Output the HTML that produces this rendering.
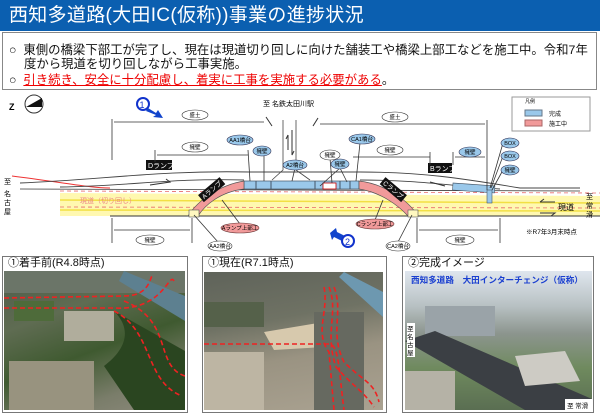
<!DOCTYPE html>
<html><head><meta charset="utf-8">
<style>
*{margin:0;padding:0;box-sizing:border-box}
body{width:600px;height:414px;overflow:hidden;background:#fff;font-family:"Liberation Sans","Noto Sans CJK JP",sans-serif;position:relative}
.hdr{position:absolute;left:0;top:0;width:600px;height:31px;background:#0b5fb0;color:#fff;font-size:19px;line-height:31px;padding-left:9px;letter-spacing:0.3px}
.box{position:absolute;left:2px;top:32px;width:595px;height:58px;border:1px solid #888;font-size:12.4px;line-height:14px;color:#111}
.l{position:absolute;left:6px;white-space:nowrap}
.red{color:#e00;text-decoration:underline}
.panel{position:absolute;border:1.5px solid #777;background:#fff}
.pt{position:absolute;left:5px;top:0px;font-size:11px;line-height:13px;white-space:nowrap;color:#111}
.ph{position:absolute;overflow:hidden}
</style></head><body>
<div class="hdr">西知多道路(大田IC(仮称))事業の進捗状況</div>
<div class="box">
<div class="l" style="top:10px">○&nbsp;&nbsp;東側の橋梁下部工が完了し、現在は現道切り回しに向けた舗装工や橋梁上部工などを施工中。令和7年</div>
<div class="l" style="top:24px;left:21px">度から現道を切り回しながら工事実施。</div>
<div class="l" style="top:40px">○&nbsp;&nbsp;<span class="red">引き続き、安全に十分配慮し、着実に工事を実施する必要がある</span>。</div>
</div>

<svg style="position:absolute;left:0;top:92px" width="600" height="163" viewBox="0 92 600 163" font-family="Liberation Sans, Noto Sans CJK JP, sans-serif">
<circle cx="34" cy="104" r="9" fill="#fff" stroke="#333"/>
<polygon points="26,107 42,98 42,107" fill="#111"/>
<text x="9" y="110" font-size="9" font-weight="bold">Z</text>
<circle cx="143" cy="104" r="6" fill="#fff" stroke="#1133cc" stroke-width="2"/>
<text x="139.5" y="108" font-size="9" fill="#1133cc">1</text>
<polygon points="148,108 156,113 158,110 163,118 153,117 156,115 146,111" fill="#1144cc"/>
<text x="263" y="106" font-size="7">至 名鉄太田川駅</text>
<rect x="512" y="97" width="78" height="34" fill="#fff" stroke="#999"/>
<text x="525" y="103" font-size="5">凡例</text>
<rect x="525" y="110" width="17" height="6" fill="#9ac8ea" stroke="#678"/>
<text x="549" y="116" font-size="6">完成</text>
<rect x="525" y="120" width="17" height="6" fill="#f19a9a" stroke="#a66"/>
<text x="549" y="126" font-size="6">施工中</text>
<path d="M60,193 L600,196 L600,216 L60,216 Z" fill="#fff8b0"/>
<line x1="60" y1="200" x2="600" y2="203" stroke="#f2e044" stroke-width="1.5"/>
<line x1="60" y1="210" x2="600" y2="211" stroke="#f2e044" stroke-width="1.5"/>
<line x1="60" y1="191" x2="600" y2="193" stroke="#e86a6a" stroke-dasharray="4,3" stroke-width="0.8"/>
<line x1="60" y1="207" x2="600" y2="208" stroke="#e86a6a" stroke-dasharray="4,3" stroke-width="0.8"/>
<line x1="110" y1="216" x2="600" y2="216" stroke="#333"/>
<line x1="20" y1="189" x2="580" y2="191" stroke="#333" stroke-width="0.8"/>
<text x="80" y="203" font-size="7" fill="#e88">現道（切り回し）</text>
<path d="M12,176 C60,182 90,188 110,188" stroke="#e33" fill="none"/>
<path d="M20,183 C100,180 160,170 250,172 L360,172 C420,172 460,178 520,188 L580,188" stroke="#444" fill="none" stroke-width="0.9"/>
<path d="M60,187 C130,186 170,178 244,180" stroke="#444" fill="none" stroke-width="0.9"/>
<path d="M360,180 C420,180 450,186 500,189" stroke="#444" fill="none" stroke-width="0.9"/>
<path d="M150,185 L170,182 L166,179" stroke="#333" fill="none"/>
<path d="M430,182 L445,186" stroke="#333" fill="none"/>
<path d="M283,120 L283,170 L272,180 M296,120 L296,170 L310,180" stroke="#444" fill="none" stroke-width="0.8"/>
<path d="M288,135 L288,150 M288,135 L286,139 M292,130 L292,155 L294,151" stroke="#333" fill="none"/>
<line x1="266" y1="117" x2="272" y2="126" stroke="#333"/>
<line x1="318" y1="118" x2="313" y2="126" stroke="#333"/>
<rect x="244" y="181" width="115" height="8" fill="#9ac8ea" stroke="#456" stroke-width="0.7"/>
<line x1="256" y1="181" x2="256" y2="189" stroke="#456"/><line x1="271" y1="181" x2="271" y2="189" stroke="#456"/>
<line x1="315" y1="181" x2="315" y2="189" stroke="#456"/><line x1="340" y1="181" x2="340" y2="189" stroke="#456"/><line x1="350" y1="181" x2="350" y2="189" stroke="#456"/>
<rect x="323" y="183" width="13" height="6" fill="#fff" stroke="#c00" stroke-width="0.8"/>
<rect x="453" y="183" width="42" height="7" fill="#9ac8ea" stroke="#456" stroke-width="0.6" transform="rotate(4 453 183)"/>
<rect x="487" y="190" width="5" height="13" fill="#9ac8ea" stroke="#456" stroke-width="0.6"/>
<path d="M244,181 L244,189 C220,192 205,205 198,216 L188,216 C198,200 220,185 244,181 Z" fill="#f19a9a" stroke="#555" stroke-width="0.7"/>
<path d="M359,181 L359,189 C380,192 398,205 408,216 L418,216 C408,200 385,184 359,181 Z" fill="#f19a9a" stroke="#555" stroke-width="0.7"/>
<rect x="189" y="210" width="10" height="7" fill="#fff8c0" stroke="#555" stroke-width="0.6"/>
<rect x="408" y="210" width="10" height="7" fill="#fff8c0" stroke="#555" stroke-width="0.6"/>
<g transform="rotate(-40 212 190)"><rect x="198" y="185" width="28" height="9" fill="#111"/><text x="200" y="192" font-size="6.5" fill="#fff">Aランプ</text></g>
<g transform="rotate(40 393 190)"><rect x="379" y="185" width="28" height="9" fill="#111"/><text x="381" y="192" font-size="6.5" fill="#fff">Cランプ</text></g>
<rect x="146" y="160" width="26" height="10" fill="#111"/><text x="148" y="168" font-size="7" fill="#fff">Dランプ</text>
<rect x="428" y="163" width="24" height="10" fill="#111"/><text x="430" y="171" font-size="7" fill="#fff">Bランプ</text>
<g stroke="#333" stroke-width="0.8" fill="none">
<line x1="112" y1="119" x2="112" y2="160"/><line x1="487" y1="120" x2="487" y2="190"/>
<line x1="114" y1="122" x2="264" y2="122"/><line x1="320" y1="124" x2="485" y2="124"/>
<line x1="155" y1="150" x2="155" y2="162"/><line x1="157" y1="155" x2="248" y2="155"/>
<line x1="353" y1="157" x2="430" y2="157"/><line x1="430" y1="152" x2="430" y2="165"/>
<line x1="455" y1="157" x2="485" y2="157"/><line x1="453" y1="152" x2="453" y2="165"/>
<line x1="112" y1="218" x2="112" y2="243"/><line x1="114" y1="230" x2="190" y2="230"/><line x1="192" y1="218" x2="192" y2="243"/>
<line x1="417" y1="218" x2="417" y2="243"/><line x1="419" y1="230" x2="498" y2="230"/><line x1="500" y1="218" x2="500" y2="243"/>
<line x1="248" y1="150" x2="250" y2="181"/><line x1="264" y1="155" x2="264" y2="181"/><line x1="295" y1="168" x2="292" y2="181"/>
<line x1="330" y1="158" x2="332" y2="183"/><line x1="340" y1="168" x2="320" y2="186"/><line x1="340" y1="168" x2="347" y2="182"/>
<line x1="360" y1="143" x2="356" y2="181"/><line x1="503" y1="143" x2="490" y2="188"/><line x1="503" y1="156" x2="491" y2="188"/><line x1="503" y1="170" x2="492" y2="190"/>
<line x1="240" y1="224" x2="222" y2="200"/><line x1="375" y1="220" x2="383" y2="200"/>
<line x1="218" y1="242" x2="194" y2="215"/><line x1="398" y1="242" x2="412" y2="215"/>
</g>
<g font-size="5.5" text-anchor="middle">
<ellipse cx="195" cy="115" rx="13" ry="5" fill="#fff" stroke="#333" stroke-width="0.6"/><text x="195" y="117">盛土</text>
<ellipse cx="395" cy="117" rx="13" ry="5" fill="#fff" stroke="#333" stroke-width="0.6"/><text x="395" y="119">盛土</text>
<ellipse cx="195" cy="147" rx="13" ry="5" fill="#fff" stroke="#333" stroke-width="0.6"/><text x="195" y="149">擁壁</text>
<ellipse cx="390" cy="150" rx="13" ry="5" fill="#fff" stroke="#333" stroke-width="0.6"/><text x="390" y="152">擁壁</text>
<ellipse cx="330" cy="155" rx="10" ry="5" fill="#fff" stroke="#333" stroke-width="0.6"/><text x="330" y="157">擁壁</text>
<ellipse cx="150" cy="240" rx="14" ry="5" fill="#fff" stroke="#333" stroke-width="0.6"/><text x="150" y="242">擁壁</text>
<ellipse cx="460" cy="240" rx="14" ry="5" fill="#fff" stroke="#333" stroke-width="0.6"/><text x="460" y="242">擁壁</text>
<ellipse cx="220" cy="246" rx="12" ry="5" fill="#fff" stroke="#333" stroke-width="0.6"/><text x="220" y="248">AA2橋台</text>
<ellipse cx="398" cy="246" rx="12" ry="5" fill="#fff" stroke="#333" stroke-width="0.6"/><text x="398" y="248">CA2橋台</text>
<g fill="#9ac8ea" stroke="#335" stroke-width="0.6">
<ellipse cx="240" cy="140" rx="13" ry="5"/><ellipse cx="262" cy="151" rx="9" ry="5"/><ellipse cx="295" cy="165" rx="12" ry="5"/>
<ellipse cx="340" cy="164" rx="9" ry="5"/><ellipse cx="362" cy="139" rx="13" ry="5"/><ellipse cx="470" cy="152" rx="11" ry="5"/>
<ellipse cx="510" cy="143" rx="9" ry="5"/><ellipse cx="510" cy="156" rx="9" ry="5"/><ellipse cx="510" cy="170" rx="9" ry="5"/>
</g>
<text x="240" y="142">AA1橋台</text><text x="262" y="153">擁壁</text><text x="295" y="167">A2橋台</text><text x="340" y="166">擁壁</text>
<text x="362" y="141">CA1橋台</text><text x="470" y="154">擁壁</text><text x="510" y="145">BOX</text><text x="510" y="158">BOX</text><text x="510" y="172">擁壁</text>
<g fill="#f19a9a" stroke="#633" stroke-width="0.6"><ellipse cx="240" cy="228" rx="19" ry="5"/><ellipse cx="375" cy="224" rx="19" ry="5"/></g>
<text x="240" y="230">Aランプ上部工</text><text x="375" y="226">Cランプ上部工</text>
</g>
<text x="4" y="184" font-size="7">至</text><text x="4" y="196" font-size="7">名</text><text x="4" y="205" font-size="7">古</text><text x="4" y="214" font-size="7">屋</text>
<text x="586" y="199" font-size="7">至</text><text x="586" y="208" font-size="7">常</text><text x="586" y="217" font-size="7">滑</text>
<text x="558" y="210" font-size="8">現道</text>
<path d="M540,202 L555,202 M540,202 L544,199 M540,213 L555,213 L551,216" stroke="#333" fill="none"/>
<text x="526" y="234" font-size="6.5">※R7年3月末時点</text>
<polygon points="330,233 336,228 337,232 345,236 342,241 334,237 332,240" fill="#1144cc"/>
<circle cx="348" cy="241" r="6" fill="#fff" stroke="#1133cc" stroke-width="2"/>
<text x="345" y="245" font-size="9" fill="#1133cc">2</text>
</svg>

<div class="panel" style="left:2px;top:256px;width:186px;height:157px">
<div class="pt">①着手前(R4.8時点)</div>
<div class="ph" style="left:1px;top:14px;width:181px;height:139px;background:linear-gradient(160deg,#4f5c4a 0%,#5f6c52 30%,#3f5a30 55%,#7a7d6a 80%,#8d8a7c 100%)">
<svg width="181" height="139">
<rect x="0" y="0" width="181" height="22" fill="#6b7568"/>
<path d="M120,0 L181,25 L181,50 L115,10 Z" fill="#5d8090"/>
<rect x="5" y="90" width="85" height="49" fill="#98937f"/>
<rect x="60" y="40" width="50" height="30" fill="#b0ad9c"/>
<rect x="10" y="30" width="40" height="20" fill="#4e6b3a"/>
<path d="M110,40 C130,60 120,80 100,95 L130,139 L181,139 L181,80 Z" fill="#2a4520"/>
<g stroke="#e22" stroke-width="1.6" stroke-dasharray="5,3" fill="none">
<path d="M0,27 L120,25 C150,25 145,0 150,5"/><path d="M0,37 L110,37 C160,40 165,0 170,10"/>
<path d="M110,40 C150,60 140,110 178,125"/><path d="M120,30 C170,50 150,95 181,105"/>
</g>
</svg></div></div>

<div class="panel" style="left:202px;top:256px;width:185px;height:157px">
<div class="pt">①現在(R7.1時点)</div>
<div class="ph" style="left:1px;top:15px;width:179px;height:138px;background:linear-gradient(170deg,#5f635a 0%,#6f7264 35%,#9a9382 60%,#aaa291 100%)">
<svg width="179" height="138">
<path d="M140,0 L179,20 L179,45 L135,5 Z" fill="#6d98b0"/>
<path d="M60,60 L120,50 L120,75 L70,78 Z" fill="#d7c9ad"/>
<rect x="0" y="80" width="60" height="58" fill="#bdb5a3"/>
<rect x="110" y="40" width="50" height="98" fill="#666960"/>
<rect x="0" y="30" width="60" height="25" fill="#55614a"/>
<g stroke="#e22" stroke-width="1.6" stroke-dasharray="5,3" fill="none">
<path d="M0,72 L125,72 C135,72 135,100 140,138"/><path d="M120,15 C125,40 110,60 125,80 L130,138"/>
<path d="M130,15 C140,40 125,60 140,90 C160,110 170,110 175,130"/><path d="M125,15 C135,40 120,60 132,95 C150,115 160,120 170,135"/>
</g>
</svg></div></div>

<div class="panel" style="left:402px;top:256px;width:192px;height:157px">
<div class="pt">②完成イメージ</div>
<div class="ph" style="left:2px;top:14px;width:187px;height:139px;background:linear-gradient(180deg,#dfe6ee 0%,#b8c1c3 25%,#8c958e 45%,#6f8a5e 70%,#5a6e52 100%)">
<svg width="187" height="139">
<text x="6" y="12" font-size="8.6" font-weight="bold" fill="#1a3fd0" font-family="Liberation Sans, Noto Sans CJK JP, sans-serif">西知多道路　大田インターチェンジ（仮称）</text>
<rect x="20" y="35" width="70" height="30" fill="#9aa3a8"/>
<path d="M0,70 L120,139 L187,139 L187,128 L30,60 Z" fill="#3b3f44"/>
<path d="M110,85 L160,80 L175,110 L120,115 Z" fill="#cdcbc4"/>
<rect x="0" y="100" width="50" height="39" fill="#b5b2a6"/>
<rect x="2" y="52" width="8" height="34" fill="#fff"/>
<text x="2" y="60" font-size="6.5">至</text><text x="2" y="68" font-size="6.5">名</text><text x="2" y="76" font-size="6.5">古</text><text x="2" y="84" font-size="6.5">屋</text>
<rect x="160" y="128" width="27" height="11" fill="#fff"/><text x="162" y="137" font-size="6.5">至 常滑</text>
</svg></div></div>
</body></html>
